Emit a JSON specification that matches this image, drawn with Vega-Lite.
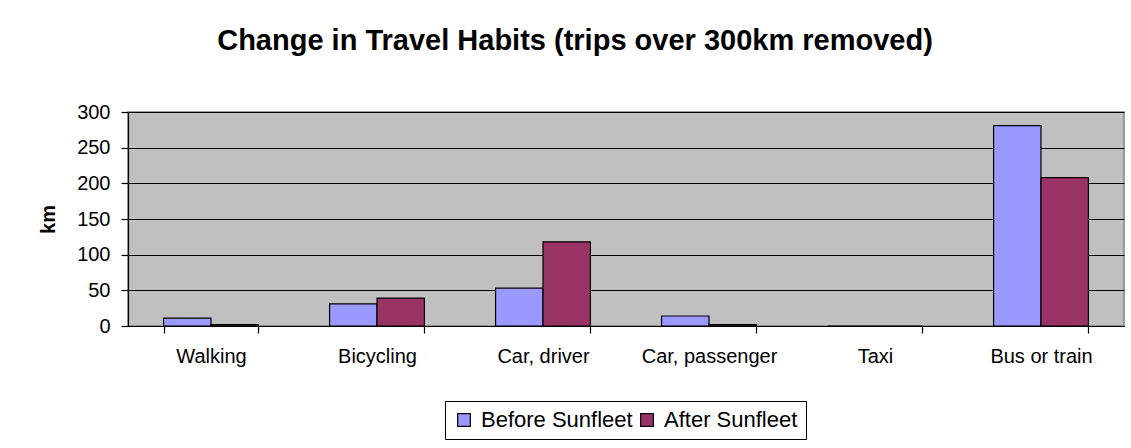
{
  "$schema": "https://vega.github.io/schema/vega-lite/v6.json",
  "width": 996,
  "height": 214,
  "autosize": {"type": "none"},
  "padding": {"left": 128, "top": 112, "right": 7, "bottom": 122},
  "background": "white",
  "title": {
    "text": "Change in Travel Habits (trips over 300km removed)",
    "font": "Liberation Sans",
    "fontSize": 29,
    "fontWeight": "bold",
    "color": "black",
    "anchor": "middle",
    "dx": -51,
    "offset": 46
  },
  "data": {
    "values": [
      {"mode": "Walking", "period": "Before Sunfleet", "km": 11},
      {"mode": "Walking", "period": "After Sunfleet", "km": 2},
      {"mode": "Bicycling", "period": "Before Sunfleet", "km": 31},
      {"mode": "Bicycling", "period": "After Sunfleet", "km": 39},
      {"mode": "Car, driver", "period": "Before Sunfleet", "km": 53},
      {"mode": "Car, driver", "period": "After Sunfleet", "km": 118},
      {"mode": "Car, passenger", "period": "Before Sunfleet", "km": 14},
      {"mode": "Car, passenger", "period": "After Sunfleet", "km": 2},
      {"mode": "Taxi", "period": "Before Sunfleet", "km": 0},
      {"mode": "Taxi", "period": "After Sunfleet", "km": 0},
      {"mode": "Bus or train", "period": "Before Sunfleet", "km": 281},
      {"mode": "Bus or train", "period": "After Sunfleet", "km": 208}
    ]
  },
  "mark": {"type": "bar", "stroke": "black", "strokeWidth": 1.2},
  "encoding": {
    "x": {
      "field": "mode",
      "type": "nominal",
      "sort": ["Walking", "Bicycling", "Car, driver", "Car, passenger", "Taxi", "Bus or train"],
      "scale": {"paddingInner": 0.4286, "paddingOuter": 0.2143},
      "axis": {
        "title": null,
        "labelAngle": 0,
        "tickBand": "extent",
        "tickSize": 7,
        "tickColor": "black",
        "tickWidth": 1.2,
        "domainColor": "black",
        "domainWidth": 1.2,
        "labelPadding": 13,
        "labelFont": "Liberation Sans",
        "labelFontSize": 20,
        "labelColor": "black",
        "grid": false
      }
    },
    "xOffset": {
      "field": "period",
      "type": "nominal",
      "sort": ["Before Sunfleet", "After Sunfleet"],
      "scale": {"paddingInner": 0, "paddingOuter": 0}
    },
    "y": {
      "field": "km",
      "type": "quantitative",
      "scale": {"domain": [0, 300], "nice": false},
      "axis": {
        "title": "km",
        "titleFont": "Liberation Sans",
        "titleFontSize": 20,
        "titleFontWeight": "bold",
        "titleColor": "black",
        "titlePadding": 18,
        "values": [0, 50, 100, 150, 200, 250, 300],
        "tickSize": 7,
        "tickColor": "black",
        "tickWidth": 1.2,
        "domainColor": "black",
        "domainWidth": 1.2,
        "labelPadding": 11,
        "labelFont": "Liberation Sans",
        "labelFontSize": 20,
        "labelColor": "black",
        "grid": true,
        "gridColor": "black",
        "gridWidth": 1.2,
        "gridOpacity": 1
      }
    },
    "fill": {
      "field": "period",
      "type": "nominal",
      "sort": ["Before Sunfleet", "After Sunfleet"],
      "scale": {"domain": ["Before Sunfleet", "After Sunfleet"], "range": ["#9999FF", "#993366"]},
      "legend": {
        "title": null,
        "orient": "none",
        "legendX": 317,
        "legendY": 289,
        "direction": "horizontal",
        "columns": 2,
        "columnPadding": 3,
        "strokeColor": "black",
        "padding": 8,
        "symbolType": "square",
        "symbolSize": 160,
        "symbolStrokeColor": "black",
        "symbolStrokeWidth": 1.2,
        "symbolOpacity": 1,
        "labelFont": "Liberation Sans",
        "labelFontSize": 22,
        "labelColor": "black",
        "labelOffset": 6
      }
    }
  },
  "config": {
    "view": {"fill": "#C0C0C0", "stroke": "#808080", "strokeWidth": 1.5}
  }
}
